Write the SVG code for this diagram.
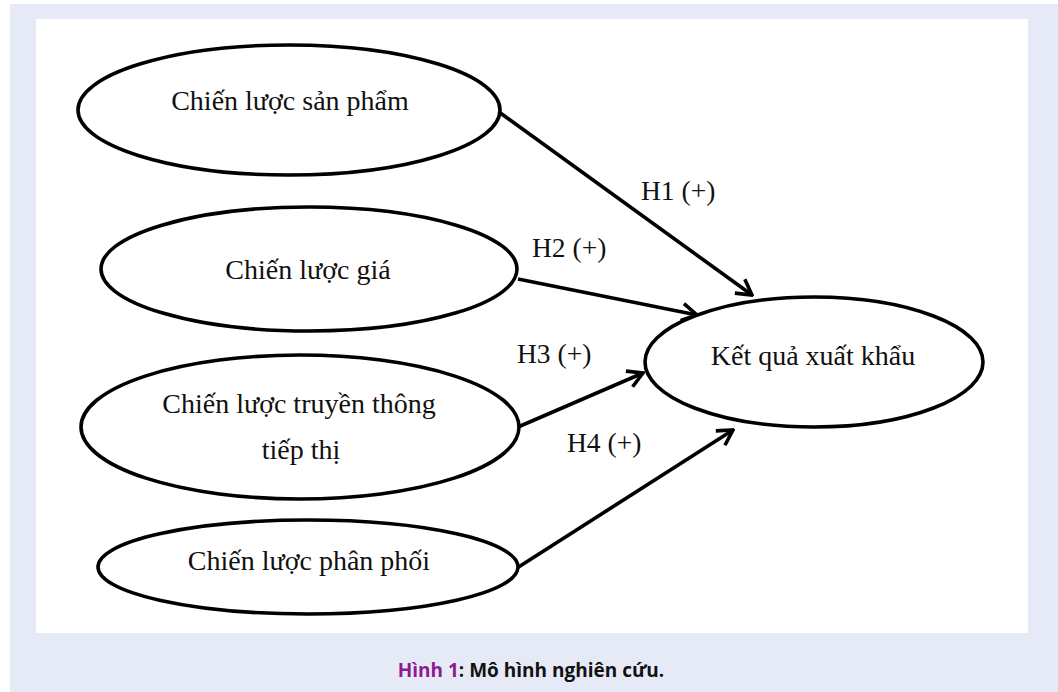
<svg xmlns="http://www.w3.org/2000/svg" width="1058" height="692" viewBox="0 0 1058 692">
<defs>
<style>
.node ellipse{fill:#ffffff;stroke:#000000;stroke-width:3.6}
.lbl{font-family:"Liberation Serif","Times New Roman",serif;font-size:28px;fill:#111111;text-anchor:middle}
.hl{font-family:"Liberation Serif","Times New Roman",serif;font-size:27.5px;fill:#111111}
.edge{stroke:#000000;stroke-width:3.6;fill:none;marker-end:url(#arr)}
.cap{font-family:"Open Sans","Noto Sans",sans-serif;font-weight:bold;font-size:19px;fill:#111111;text-anchor:middle}
</style>
<marker id="arr" viewBox="-18 -11 20 22" refX="0" refY="0" markerWidth="20" markerHeight="22" markerUnits="userSpaceOnUse" orient="auto">
<path d="M-15,-8.5 L0,0 L-15,8.5" fill="none" stroke="#000" stroke-width="3.6" stroke-linejoin="miter"/>
</marker>
</defs>
<rect x="0" y="0" width="1058" height="692" fill="#ffffff"/>
<rect x="10" y="4" width="1048" height="688" fill="#e6eaf6"/>
<rect x="36" y="19" width="992" height="614" fill="#ffffff"/>
<g id="connectors">
<line class="edge" x1="499" y1="112" x2="752" y2="295"/>
<line class="edge" x1="518" y1="279" x2="697" y2="315"/>
<line class="edge" x1="518" y1="427" x2="643" y2="373"/>
<line class="edge" x1="517" y1="568" x2="733" y2="430"/>
<text class="hl" x="641" y="200">H1 (+)</text>
<text class="hl" x="532" y="257">H2 (+)</text>
<text class="hl" x="517" y="363">H3 (+)</text>
<text class="hl" x="567" y="452">H4 (+)</text>
</g>
<g id="n1" class="node">
<ellipse cx="289" cy="110" rx="211" ry="65"/>
<text class="lbl" x="290" y="110">Chiến lược sản phẩm</text>
</g>
<g id="n2" class="node">
<ellipse cx="309" cy="269" rx="208" ry="62"/>
<text class="lbl" x="308" y="279">Chiến lược giá</text>
</g>
<g id="n3" class="node">
<ellipse cx="300" cy="427" rx="219" ry="72"/>
<text class="lbl" x="299" y="413">Chiến lược truyền thông</text>
<text class="lbl" x="301" y="459">tiếp thị</text>
</g>
<g id="n4" class="node">
<ellipse cx="308" cy="567" rx="210" ry="47"/>
<text class="lbl" x="309" y="570">Chiến lược phân phối</text>
</g>
<g id="n5" class="node">
<ellipse cx="814" cy="362" rx="169" ry="65"/>
<text class="lbl" x="813" y="365">Kết quả xuất khẩu</text>
</g>
<text class="cap" x="531" y="677"><tspan fill="#8e1a91">Hình 1</tspan>: Mô hình nghiên cứu.</text>
</svg>
